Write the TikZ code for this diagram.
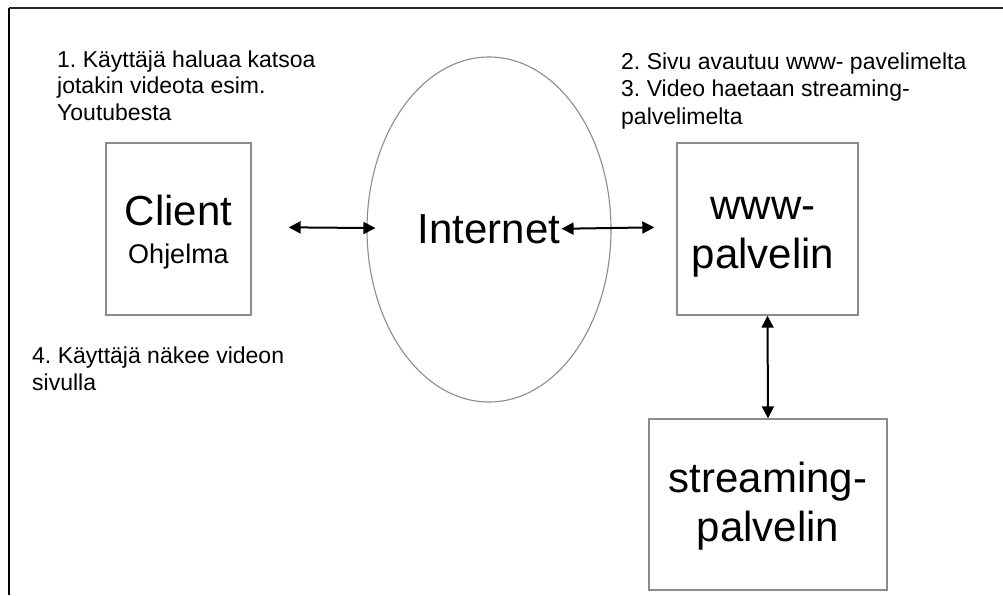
\documentclass[tikz,border=0pt]{standalone}
\usepackage{fontspec}
\setmainfont{Liberation Sans}
\usetikzlibrary{shapes.geometric,arrows.meta}
\definecolor{edgegray}{HTML}{8C8C8C}
\frenchspacing
\begin{document}
\begin{tikzpicture}[x=1pt,y=-1pt,
  box/.style={draw=edgegray,line width=1.4pt,rectangle,inner sep=0pt},
  cloud/.style={draw=edgegray,line width=1.1pt,ellipse,inner sep=0pt},
  bigtxt/.style={font=\fontsize{42}{48.5}\selectfont,align=center,inner sep=0pt},
  note/.style={font=\fontsize{23}{26.5}\selectfont,align=left,inner sep=0pt,anchor=base west},
  conn/.style={draw=black,line width=2pt,{Triangle[length=12pt,width=12pt]}-{Triangle[length=12pt,width=12pt]}}
]
\useasboundingbox (0,0) rectangle (1003,595);
% open frame: top and left edges only
\draw[line width=2pt,black!85] (9,8) -- (1003,8);
\draw[line width=2pt,black] (9,8) -- (9,595);

% boxes and the network ellipse
\node[box,minimum width=145,minimum height=172] (client) at (178.5,229) {};
\node[box,minimum width=181,minimum height=172] (www) at (767.5,229) {};
\node[box,minimum width=238,minimum height=171] (stream) at (768,504.5) {};
\node[cloud,minimum width=244,minimum height=345] (inet) at (489,229.5) {};

% labels inside the shapes (multi-line nodes sit on their last baseline)
\node[font=\fontsize{42}{48}\selectfont,inner sep=0pt,anchor=base] (clienttxt) at (178.5,225) {Client};
\node[font=\fontsize{27}{30}\selectfont,inner sep=0pt,anchor=base] (ohjtxt) at (178.5,263) {Ohjelma};
\node[bigtxt,anchor=base] (inettxt) at (489,243) {Internet};
\node[bigtxt,anchor=base] (wwwtxt) at (763,268) {www-\\palvelin};
\node[bigtxt,anchor=base] (streamtxt) at (768,541) {streaming-\\palvelin};

% step descriptions
\node[note] (n1) at (57,120) {1. Käyttäjä haluaa katsoa\\jotakin videota esim.\\Youtubesta};
\node[note,font=\fontsize{23}{27.5}\selectfont] (n2) at (621,124) {2. Sivu avautuu www- pavelimelta\\3. Video haetaan streaming-\\palvelimelta};
\node[note,font=\fontsize{23}{27}\selectfont] (n4) at (32,390) {4. Käyttäjä näkee videon\\sivulla};

% connectors
\draw[conn,shorten <=37pt,shorten >=-9pt] ([yshift=2]client.east) -- ([yshift=1.5]inet.west);
\draw[conn,shorten <=-50pt,shorten >=22pt] ([yshift=1.5]inet.east) -- ([yshift=2]www.west);
\draw[conn] (www.south) -- (stream.north);
\end{tikzpicture}
\end{document}
